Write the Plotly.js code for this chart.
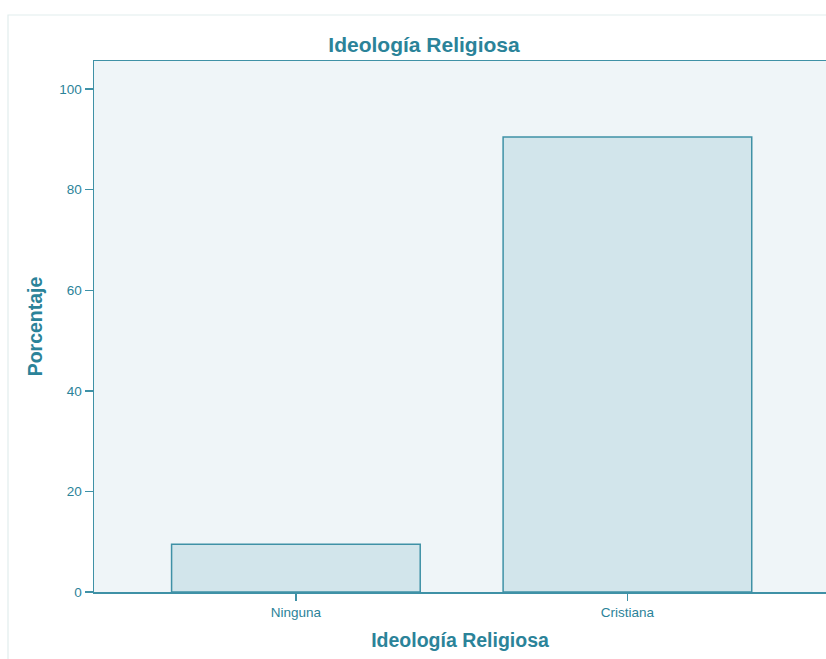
<!DOCTYPE html>
<html>
<head>
<meta charset="utf-8">
<script src="https://cdn.plot.ly/plotly-3.0.1.min.js"></script>
<style>
html,body{margin:0;padding:0;background:#ffffff;}
#chart{width:826px;height:659px;}
</style>
</head>
<body>
<div id="chart"></div>
<script>
var categories = ["Ninguna", "Cristiana"];
var percentages = [9.5, 90.5];
var yTicks = [0, 20, 40, 60, 80, 100];

var teal = "#2b8399";
var lineCol = "#3f91a6";

var trace = {
  type: "bar",
  x: categories,
  y: percentages,
  width: 0.75,
  marker: {color: "#d2e5eb", line: {color: lineCol, width: 1.5}},
  hoverinfo: "x+y"
};

var L = 94, R = 826, T = 61, B = 592, W = 826, H = 659;
var pw = R - L, ph = B - T;

var layout = {
  width: W, height: H,
  margin: {l: L, r: 0, t: T, b: H - B, pad: 0},
  paper_bgcolor: "#ffffff",
  plot_bgcolor: "#eff5f8",
  font: {family: "Liberation Sans, Arial, sans-serif", color: teal},
  title: {
    text: "<b>Ideología Religiosa</b>",
    font: {size: 21, color: teal, family: "Liberation Sans, Arial, sans-serif"},
    x: 424 / W, xref: "container", xanchor: "center",
    y: 1 - 45 / H, yref: "container", yanchor: "middle"
  },
  xaxis: {
    type: "category",
    range: [-0.609, 1.599],
    showline: true, linecolor: lineCol, linewidth: 1.5, mirror: true,
    ticks: "outside", ticklen: 7, tickwidth: 1.5, tickcolor: lineCol,
    showgrid: false, zeroline: false,
    tickfont: {size: 13.5, color: teal},
    title: {text: "<b>Ideología Religiosa</b>", font: {size: 19.5, color: teal}, standoff: 14}
  },
  yaxis: {
    range: [0, 105.6],
    tickvals: yTicks,
    showline: true, linecolor: lineCol, linewidth: 1.5, mirror: false,
    ticks: "outside", ticklen: 8, tickwidth: 1.5, tickcolor: lineCol,
    showgrid: false, zeroline: false,
    tickfont: {size: 13.5, color: teal},
    title: {text: "<b>Porcentaje</b>", font: {size: 19.5, color: teal}, standoff: 11}
  },
  shapes: [{
    type: "rect", xref: "paper", yref: "paper", layer: "below",
    x0: (8 - L) / pw, x1: (W + 10 - L) / pw,
    y0: (B - (H + 10)) / ph, y1: (B - 15) / ph,
    line: {color: "#e2eded", width: 1.2}, fillcolor: "rgba(0,0,0,0)"
  }],
  showlegend: false,
  bargap: 0.25
};

Plotly.newPlot("chart", [trace], layout, {displayModeBar: false, staticPlot: true});
</script>
</body>
</html>
